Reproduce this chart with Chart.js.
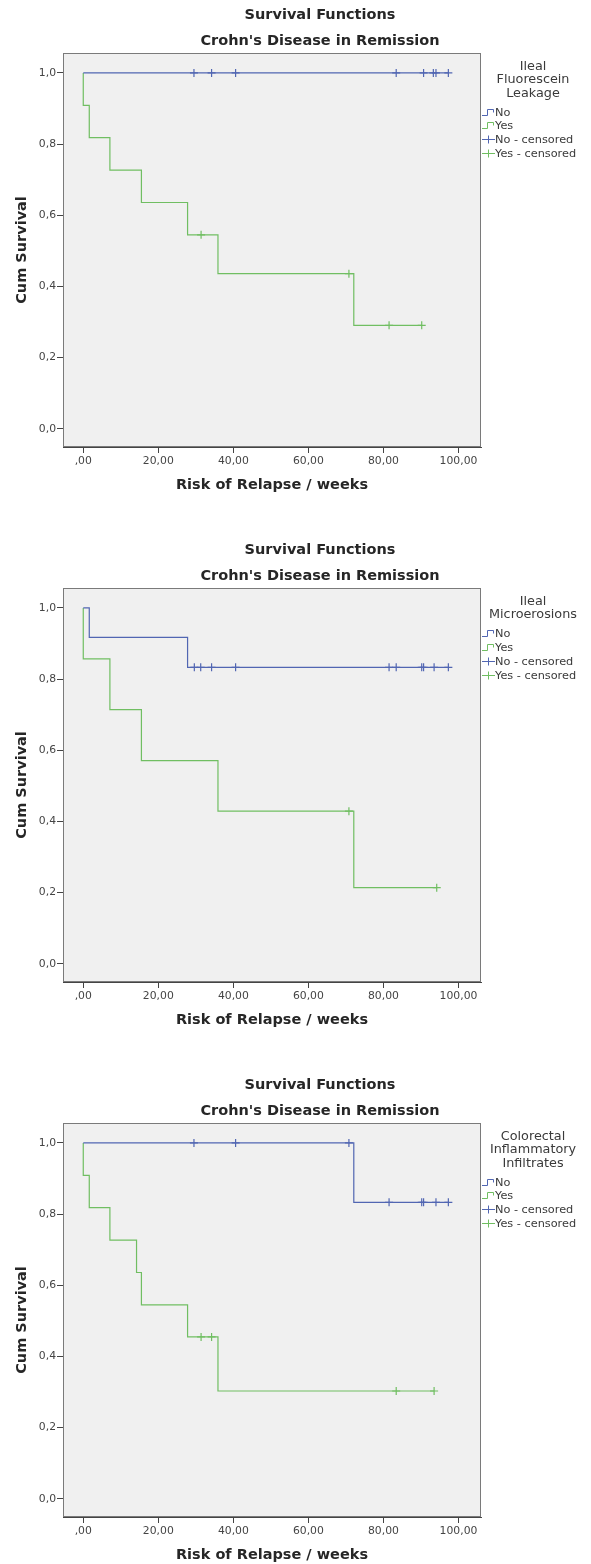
<!DOCTYPE html>
<html>
<head>
    <title>Survival Functions - Crohn's Disease in Remission</title>
    <script src="https://cdn.jsdelivr.net/npm/chart.js"></script>
    <style>
        body { margin: 0; background: #fff; }
        .panel { position: relative; width: 591px; }
        canvas { display: block; }
    </style>
</head>
<body>
    <div class="panel" style="height: 535px;"><canvas id="leakChart"></canvas></div>
    <div class="panel" style="height: 535px;"><canvas id="erosionChart"></canvas></div>
    <div class="panel" style="height: 494px;"><canvas id="infiltrateChart"></canvas></div>

    <script>
        // axis ticks
        const xTicks = [0, 20, 40, 60, 80, 100];
        const xTickLabels = [',00', '20,00', '40,00', '60,00', '80,00', '100,00'];
        const yTicks = [0, 0.2, 0.4, 0.6, 0.8, 1.0];
        const yTickLabels = ['0,0', '0,2', '0,4', '0,6', '0,8', '1,0'];
        const legendLabels = ['No', 'Yes', 'No - censored', 'Yes - censored'];

        // Panel 1: Ileal Fluorescein Leakage
        const leakNoTimes = [0];
        const leakNoSurv = [1.0];
        const leakNoEnd = 97.3;
        const leakNoCensored = [29.5, 34.2, 40.6, 83.4, 90.7, 93.3, 94.0, 97.3];
        const leakYesTimes = [0, 0, 1.6, 7.1, 15.5, 27.8, 35.9, 72.1];
        const leakYesSurv = [1.0, 0.909, 0.818, 0.727, 0.636, 0.545, 0.436, 0.291];
        const leakYesEnd = 90.2;
        const leakYesCensored = [31.4, 70.8, 81.5, 90.2];

        // Panel 2: Ileal Microerosions
        const erosionNoTimes = [0, 1.6, 27.8];
        const erosionNoSurv = [1.0, 0.917, 0.833];
        const erosionNoEnd = 97.3;
        const erosionNoCensored = [29.6, 31.3, 34.2, 40.6, 81.5, 83.4, 90.2, 90.7, 93.5, 97.3];
        const erosionYesTimes = [0, 0, 7.1, 15.5, 35.9, 72.1];
        const erosionYesSurv = [1.0, 0.857, 0.714, 0.571, 0.429, 0.214];
        const erosionYesEnd = 94.2;
        const erosionYesCensored = [70.8, 94.2];

        // Panel 3: Colorectal Inflammatory Infiltrates
        const infilNoTimes = [0, 72.1];
        const infilNoSurv = [1.0, 0.833];
        const infilNoEnd = 97.3;
        const infilNoCensored = [29.5, 40.6, 70.8, 81.5, 90.2, 90.7, 94.0, 97.3];
        const infilYesTimes = [0, 0, 1.6, 7.1, 14.2, 15.5, 27.8, 35.9];
        const infilYesSurv = [1.0, 0.909, 0.818, 0.727, 0.636, 0.545, 0.455, 0.303];
        const infilYesEnd = 93.5;
        const infilYesCensored = [31.4, 34.2, 83.4, 93.5];

        const BLUE = '#5166b2';
        const GREEN = '#70be62';
        const FONT = '"DejaVu Sans", sans-serif';

        // turn step times/values into line points
        function stepPoints(times, surv, end) {
            const pts = [];
            for (let i = 0; i < times.length; i++) {
                if (i > 0) pts.push({ x: times[i], y: surv[i - 1] });
                pts.push({ x: times[i], y: surv[i] });
            }
            pts.push({ x: end, y: surv[surv.length - 1] });
            return pts;
        }

        // value of the step curve at time t
        function survAt(times, surv, t) {
            let s = surv[0];
            for (let i = 0; i < times.length; i++) {
                if (times[i] <= t) s = surv[i];
            }
            return s;
        }

        // plot background, frame, titles and legend the SPSS way
        const spssFrame = {
            id: 'spssFrame',
            beforeDraw(chart) {
                const { ctx, chartArea: a } = chart;
                ctx.save();
                ctx.fillStyle = '#ffffff';
                ctx.fillRect(0, 0, chart.width, chart.height);
                ctx.fillStyle = '#f0f0f0';
                ctx.fillRect(a.left, a.top, a.right - a.left, a.bottom - a.top);
                ctx.restore();
            },
            afterDraw(chart, args, opts) {
                const { ctx, chartArea: a } = chart;
                ctx.save();
                // frame
                ctx.strokeStyle = '#7a7a7a';
                ctx.lineWidth = 1;
                ctx.strokeRect(a.left + 0.5, a.top + 0.5, a.right - a.left - 1, a.bottom - a.top - 1);

                // titles
                ctx.fillStyle = '#262626';
                ctx.font = 'bold 14.5px ' + FONT;
                ctx.textAlign = 'center';
                ctx.textBaseline = 'middle';
                ctx.fillText('Survival Functions', 320, 15);
                ctx.fillText("Crohn's Disease in Remission", 320, 41);

                // legend title
                ctx.fillStyle = '#3a3a3a';
                ctx.font = '12.8px ' + FONT;
                let y = 66.7;
                opts.title.forEach((line, i) => {
                    ctx.fillText(line, 533, y + i * 13.4);
                });
                y = y + (opts.title.length - 1) * 13.4 + 18;

                // legend items
                ctx.font = '11.3px ' + FONT;
                ctx.textAlign = 'left';
                const colors = [BLUE, GREEN, BLUE, GREEN];
                legendLabels.forEach((label, i) => {
                    const yy = Math.round(y + i * 13.8) + 0.5;
                    ctx.strokeStyle = colors[i];
                    ctx.lineWidth = 1;
                    ctx.beginPath();
                    if (i < 2) {
                        ctx.moveTo(482, yy + 3);
                        ctx.lineTo(487.5, yy + 3);
                        ctx.lineTo(487.5, yy - 3);
                        ctx.lineTo(493.5, yy - 3);
                        ctx.lineTo(493.5, yy);
                    } else {
                        ctx.moveTo(482, yy);
                        ctx.lineTo(495, yy);
                        ctx.moveTo(488.5, yy - 4);
                        ctx.lineTo(488.5, yy + 4);
                    }
                    ctx.stroke();
                    ctx.fillStyle = '#3a3a3a';
                    ctx.fillText(label, 495, yy + 0.5);
                });
                ctx.restore();
            }
        };

        function createChart(canvasId, height, legendTitle, no, yes) {
            const ctx = document.getElementById(canvasId).getContext('2d');
            const noLine = stepPoints(no.times, no.surv, no.end);
            const yesLine = stepPoints(yes.times, yes.surv, yes.end);
            const noMarks = no.censored.map(t => ({ x: t, y: survAt(no.times, no.surv, t) }));
            const yesMarks = yes.censored.map(t => ({ x: t, y: survAt(yes.times, yes.surv, t) }));

            new Chart(ctx, {
                type: 'line',
                data: {
                    datasets: [
                        { label: 'No', data: noLine, borderColor: BLUE, borderWidth: 1.2, pointRadius: 0, fill: false },
                        { label: 'Yes', data: yesLine, borderColor: GREEN, borderWidth: 1.2, pointRadius: 0, fill: false },
                        { label: 'No - censored', data: noMarks, showLine: false, pointStyle: 'cross', pointRadius: 4, borderColor: BLUE, borderWidth: 1.2 },
                        { label: 'Yes - censored', data: yesMarks, showLine: false, pointStyle: 'cross', pointRadius: 4, borderColor: GREEN, borderWidth: 1.2 }
                    ]
                },
                options: {
                    responsive: true,
                    maintainAspectRatio: false,
                    animation: false,
                    events: [],
                    layout: {
                        padding: { top: 53, right: 110, bottom: height - 494, left: 0 }
                    },
                    plugins: {
                        legend: { display: false },
                        tooltip: { enabled: false },
                        spssFrame: { title: legendTitle }
                    },
                    scales: {
                        x: {
                            type: 'linear',
                            min: -5.4,
                            max: 106,
                            afterBuildTicks: scale => { scale.ticks = xTicks.map(v => ({ value: v })); },
                            afterFit: scale => { scale.height = 47; },
                            ticks: {
                                autoSkip: false,
                                maxRotation: 0,
                                padding: 2,
                                color: '#444',
                                font: { family: FONT, size: 10.8 },
                                callback: (v, i) => xTickLabels[i]
                            },
                            grid: { drawOnChartArea: false, tickLength: 6, tickColor: '#444' },
                            border: { color: '#444' },
                            title: {
                                display: true,
                                text: 'Risk of Relapse / weeks',
                                color: '#262626',
                                font: { family: FONT, size: 14.5, weight: 'bold' },
                                padding: { top: 0, bottom: 0 }
                            }
                        },
                        y: {
                            min: -0.051,
                            max: 1.056,
                            afterBuildTicks: scale => { scale.ticks = yTicks.map(v => ({ value: v })); },
                            afterFit: scale => { scale.width = 63; },
                            ticks: {
                                autoSkip: false,
                                padding: 1,
                                color: '#444',
                                font: { family: FONT, size: 10.8 },
                                callback: (v, i) => yTickLabels[i]
                            },
                            grid: { drawOnChartArea: false, tickLength: 6, tickColor: '#444' },
                            border: { color: '#444' },
                            title: {
                                display: true,
                                text: 'Cum Survival',
                                color: '#262626',
                                font: { family: FONT, size: 14.5, weight: 'bold' },
                                padding: { top: 14, bottom: 0 }
                            }
                        }
                    }
                },
                plugins: [spssFrame]
            });
        }

        createChart('leakChart', 535, ['Ileal', 'Fluorescein', 'Leakage'],
            { times: leakNoTimes, surv: leakNoSurv, end: leakNoEnd, censored: leakNoCensored },
            { times: leakYesTimes, surv: leakYesSurv, end: leakYesEnd, censored: leakYesCensored });

        createChart('erosionChart', 535, ['Ileal', 'Microerosions'],
            { times: erosionNoTimes, surv: erosionNoSurv, end: erosionNoEnd, censored: erosionNoCensored },
            { times: erosionYesTimes, surv: erosionYesSurv, end: erosionYesEnd, censored: erosionYesCensored });

        createChart('infiltrateChart', 494, ['Colorectal', 'Inflammatory', 'Infiltrates'],
            { times: infilNoTimes, surv: infilNoSurv, end: infilNoEnd, censored: infilNoCensored },
            { times: infilYesTimes, surv: infilYesSurv, end: infilYesEnd, censored: infilYesCensored });
    </script>
</body>
</html>
